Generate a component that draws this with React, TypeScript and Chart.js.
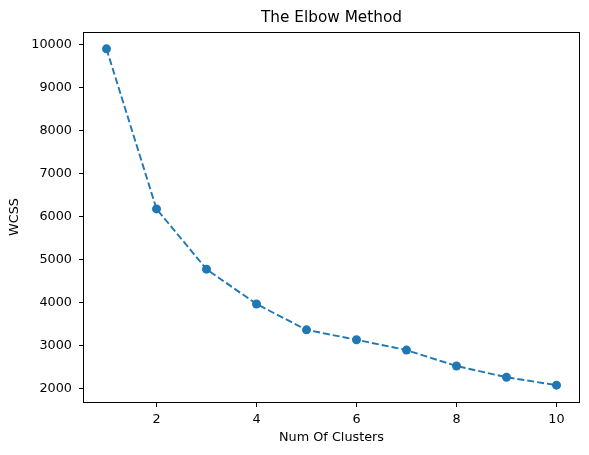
import React, { useEffect, useRef } from "react";
import { Chart, registerables } from "chart.js";

Chart.register(...registerables);

const clusters = [1, 2, 3, 4, 5, 6, 7, 8, 9, 10];
const wcss = [9900, 6180, 4780, 3970, 3370, 3140, 2900, 2530, 2270, 2085];
const xTicks = [2, 4, 6, 8, 10];
const yTicks = [2000, 3000, 4000, 5000, 6000, 7000, 8000, 9000, 10000];
const titleText = "The Elbow Method";

const FONT = "'DejaVu Sans', sans-serif";

const framePlugin = {
  id: "frame",
  afterDatasetsDraw(chart: any) {
    const { ctx, chartArea } = chart;
    ctx.save();
    ctx.strokeStyle = "#000";
    ctx.lineWidth = 1;
    ctx.strokeRect(
      Math.round(chartArea.left) - 0.5,
      Math.round(chartArea.top) + 0.5,
      Math.round(chartArea.right - chartArea.left) + 1,
      Math.round(chartArea.bottom - chartArea.top)
    );
    ctx.fillStyle = "#000";
    ctx.font = `15.3px ${FONT}`;
    ctx.textAlign = "center";
    ctx.textBaseline = "middle";
    ctx.fillText(titleText, (chartArea.left + chartArea.right) / 2, 18);
    ctx.restore();
  },
};

export default function App() {
  const ref = useRef<HTMLCanvasElement>(null);
  useEffect(() => {
    if (!ref.current) return;
    const xMin = Math.min(...clusters);
    const xMax = Math.max(...clusters);
    const yMin = Math.min(...wcss);
    const yMax = Math.max(...wcss);
    const xm = (xMax - xMin) * 0.05;
    const ym = (yMax - yMin) * 0.05;
    Chart.defaults.color = "#000";
    const chart = new Chart(ref.current, {
      type: "line",
      data: {
        datasets: [
          {
            data: clusters.map((c, i) => ({ x: c, y: wcss[i] })),
            borderColor: "#1f77b4",
            backgroundColor: "#1f77b4",
            borderWidth: 1.9,
            borderDash: [7, 3],
            pointRadius: 4.5,
            pointBorderWidth: 0,
            pointBackgroundColor: "#1f77b4",
            tension: 0,
          },
        ],
      },
      plugins: [framePlugin],
      options: {
        animation: false,
        responsive: false,
        maintainAspectRatio: false,
        layout: { padding: { left: 0, right: 10, top: 32, bottom: 0 } },
        plugins: {
          legend: { display: false },
          tooltip: { enabled: false },
          title: { display: false },
        },
        scales: {
          x: {
            type: "linear",
            min: xMin - xm,
            max: xMax + xm,
            afterBuildTicks: (s: any) => {
              s.ticks = xTicks.map((v) => ({ value: v }));
            },
            afterFit: (s: any) => {
              s.height = 53;
            },
            grid: {
              drawOnChartArea: false,
              drawTicks: true,
              tickLength: 5,
              color: "#000",
              lineWidth: 1,
            },
            border: { display: false },
            ticks: {
              color: "#000",
              padding: 5,
              maxRotation: 0,
              autoSkip: false,
              font: { family: FONT, size: 12.8 },
            },
            title: {
              display: true,
              text: "Num Of Clusters",
              color: "#000",
              font: { family: FONT, size: 12.8 },
              padding: { top: 0, bottom: 10 },
            },
          },
          y: {
            type: "linear",
            min: yMin - ym,
            max: yMax + ym,
            afterBuildTicks: (s: any) => {
              s.ticks = yTicks.map((v) => ({ value: v }));
            },
            afterFit: (s: any) => {
              s.width = 84;
            },
            grid: {
              drawOnChartArea: false,
              drawTicks: true,
              tickLength: 5,
              color: "#000",
              lineWidth: 1,
            },
            border: { display: false },
            ticks: {
              color: "#000",
              padding: 7,
              autoSkip: false,
              font: { family: FONT, size: 12.8 },
              callback: (v: any) => String(v),
            },
            title: {
              display: true,
              text: "WCSS",
              color: "#000",
              font: { family: FONT, size: 12.8 },
              padding: { top: 7, bottom: 0 },
            },
          },
        },
      },
    } as any);
    return () => chart.destroy();
  }, []);
  return (
    <div style={{ position: "fixed", left: 0, top: 0, width: 589, height: 455, background: "#fff" }}>
      <canvas ref={ref} width={589} height={455} style={{ width: 589, height: 455, display: "block" }} />
    </div>
  );
}
